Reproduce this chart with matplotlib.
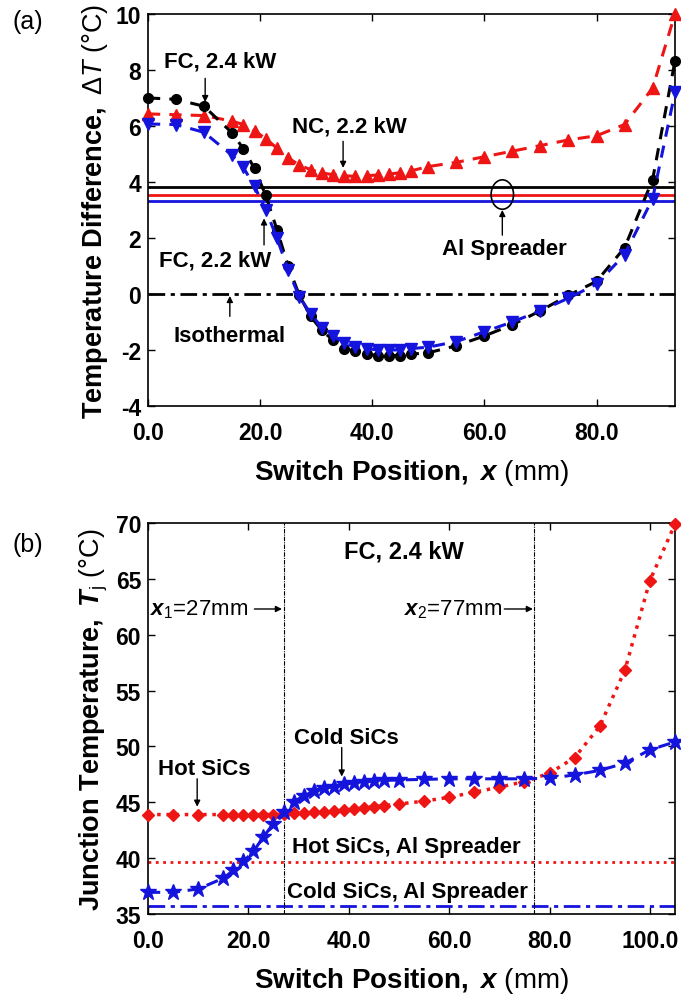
import numpy as np
import matplotlib
matplotlib.use("Agg")
import matplotlib.pyplot as plt
from matplotlib.patches import Ellipse

# -------------------------------------------------------
# Data
# -------------------------------------------------------

# (a) temperature difference
xa_fc = [0, 5, 10, 15, 17, 19, 21, 23, 25, 27, 29, 31, 33, 35, 37, 39, 41, 43,
         45, 47, 50, 55, 60, 65, 70, 75, 80, 85, 90, 94]
dT_fc24 = [7.0, 6.95, 6.7, 5.75, 5.19, 4.48, 3.52, 2.3, 1.0, -0.05, -0.8, -1.3,
           -1.65, -1.95, -2.05, -2.15, -2.2, -2.2, -2.2, -2.15, -2.1, -1.85,
           -1.5, -1.1, -0.6, -0.05, 0.45, 1.65, 4.08, 8.33]
dT_fc22 = [6.07, 6.05, 5.77, 4.95, 4.52, 3.84, 3.0, 2.0, 0.85, -0.1, -0.7, -1.2,
           -1.5, -1.75, -1.9, -1.95, -2.0, -2.0, -2.0, -1.95, -1.9, -1.7,
           -1.35, -1.0, -0.6, -0.15, 0.35, 1.4, 3.4, 7.2]
xa_nc = [0, 5, 10, 15, 17, 19, 21, 23, 25, 27, 29, 31, 33, 35, 37, 39, 41, 43,
         45, 47, 50, 55, 60, 65, 70, 75, 80, 85, 90, 94]
dT_nc22 = [6.43, 6.4, 6.37, 6.17, 6.05, 5.83, 5.54, 5.21, 4.86, 4.6, 4.44, 4.32,
           4.26, 4.22, 4.2, 4.22, 4.25, 4.28, 4.33, 4.4, 4.55, 4.7, 4.9, 5.1,
           5.3, 5.5, 5.65, 6.05, 7.35, 10.0]
al_fc24, al_nc22, al_fc22 = 3.82, 3.55, 3.33

# (b) junction temperature, FC 2.4 kW
xb = [0, 5, 10, 15, 17, 19, 21, 23, 25, 27, 29, 31, 33, 35, 37, 39, 41, 43, 45,
      47, 50, 55, 60, 65, 70, 75, 80, 85, 90, 95, 100, 105]
tj_hot = [43.9, 43.9, 43.9, 43.9, 43.9, 43.9, 43.9, 43.9, 43.9, 43.95, 44.0,
          44.05, 44.1, 44.15, 44.25, 44.3, 44.4, 44.5, 44.6, 44.7, 44.85, 45.1,
          45.45, 45.9, 46.35, 46.85, 47.6, 49.0, 51.8, 56.8, 64.85, 69.9]
tj_cold = [36.94, 36.94, 37.24, 38.2, 38.9, 39.7, 40.6, 41.9, 43.1, 44.1, 45.0,
           45.6, 46.0, 46.25, 46.4, 46.6, 46.75, 46.85, 46.9, 46.95, 47.0, 47.05,
           47.1, 47.1, 47.1, 47.1, 47.15, 47.45, 47.85, 48.5, 49.7, 50.4]
al_hot, al_cold = 39.65, 35.68
x1, x2 = 27, 77

RED  = "#ee1515"
BLUE = "#1414dc"

# -------------------------------------------------------
# Style
# -------------------------------------------------------
plt.rcParams["font.family"] = ["Liberation Sans", "DejaVu Sans"]
plt.rcParams["mathtext.fontset"] = "custom"
plt.rcParams["mathtext.rm"] = "Liberation Sans"
plt.rcParams["mathtext.it"] = "Liberation Sans:italic"
plt.rcParams["mathtext.bf"] = "Liberation Sans:bold"
plt.rcParams["mathtext.bfit"] = "Liberation Sans:bold:italic"
plt.rcParams["axes.unicode_minus"] = False

TICK_FS = 16.5
ANN_FS = 16
LAB_FS = 20

fig = plt.figure(figsize=(6.81, 9.95), dpi=100)
ax1 = fig.add_axes([0.2173, 0.591, 0.7739, 0.394])
ax2 = fig.add_axes([0.2173, 0.0804, 0.7739, 0.393])


def style_axes(ax):
    ax.tick_params(direction="in", top=True, right=True, length=5, width=1,
                   labelsize=TICK_FS)
    ax.tick_params(axis="x", pad=11)
    ax.tick_params(axis="y", pad=5)
    for lbl in ax.get_xticklabels() + ax.get_yticklabels():
        lbl.set_fontweight("bold")
    for s in ax.spines.values():
        s.set_linewidth(1.2)


def arrow(ax, xy, xytext):
    ax.annotate("", xy=xy, xytext=xytext,
                arrowprops=dict(arrowstyle="-|>", color="k", lw=1.0,
                                mutation_scale=9, shrinkA=0, shrinkB=0))


# -------------------------------------------------------
# (a)
# -------------------------------------------------------
ax1.axhline(al_fc24, color="k", lw=2)
ax1.axhline(al_nc22, color=RED, lw=2)
ax1.axhline(al_fc22, color=BLUE, lw=2)
ax1.axhline(0, color="k", lw=2, ls=(0, (6, 2, 1.5, 2)))

ax1.plot(xa_nc, dT_nc22, color=RED, ls="--", dashes=(4, 3), lw=2.2,
         marker="^", ms=8, mec=RED, mfc=RED, clip_on=False, zorder=3)
ax1.plot(xa_fc, dT_fc24, color="k", ls="--", dashes=(4, 3), lw=2.2,
         marker="o", ms=7, clip_on=False, zorder=4)
ax1.plot(xa_fc, dT_fc22, color=BLUE, ls="--", dashes=(4, 3), lw=2.2,
         marker="v", ms=8, clip_on=False, zorder=5)

ax1.set_xlim(0, 94)
ax1.set_ylim(-4, 10)
ax1.set_xticks([0, 20, 40, 60, 80])
ax1.set_xticklabels(["0.0", "20.0", "40.0", "60.0", "80.0"])
ax1.set_yticks(np.arange(-4, 11, 2))
style_axes(ax1)
ax1.set_xlabel(r"$\mathbf{Switch\ Position,}\ \mathbfit{x}$ (mm)", fontsize=LAB_FS,
               labelpad=9)
ax1.set_ylabel(r"$\mathbf{Temperature\ Difference,}\ \mathit{\Delta T}$ (°C)",
               fontsize=LAB_FS - 0.5, labelpad=4)

ax1.text(12.9, 8.33, "FC, 2.4 kW", fontsize=ANN_FS, fontweight="bold",
         ha="center", va="center")
arrow(ax1, (10.2, 6.85), (10.2, 7.7))
ax1.text(36, 6.0, "NC, 2.2 kW", fontsize=ANN_FS, fontweight="bold",
         ha="center", va="center")
arrow(ax1, (34.8, 4.5), (34.8, 5.45))
ax1.text(12, 1.2, "FC, 2.2 kW", fontsize=ANN_FS, fontweight="bold",
         ha="center", va="center")
arrow(ax1, (20.7, 2.7), (20.7, 1.75))
ax1.text(14.6, -1.5, "Isothermal", fontsize=ANN_FS, fontweight="bold",
         ha="center", va="center")
arrow(ax1, (14.6, -0.07), (14.6, -0.8))
ax1.text(63.5, 1.64, "Al Spreader", fontsize=ANN_FS, fontweight="bold",
         ha="center", va="center")
arrow(ax1, (63.2, 3.0), (63.2, 2.1))
ax1.add_patch(Ellipse((63.2, 3.55), 4.0, 1.05, fill=False, ec="k", lw=1.2,
                      zorder=6))

fig.text(13 / 681, 1 - 22 / 995, "(a)", fontsize=18, ha="left", va="center")

# -------------------------------------------------------
# (b)
# -------------------------------------------------------
ax2.axhline(al_hot, color=RED, lw=2, ls=":")
ax2.axhline(al_cold, color=BLUE, lw=2, ls=(0, (6, 2, 1.5, 2)))
ax2.axvline(x1, color="k", lw=0.8, ls=(0, (4, 1, 1, 1)))
ax2.axvline(x2, color="k", lw=0.8, ls=(0, (4, 1, 1, 1)))

ax2.plot(xb, tj_hot, color=RED, ls=":", lw=2.5, marker="D", ms=6.5,
         mec=RED, mfc=RED, clip_on=False, zorder=3)
ax2.plot(xb, tj_cold, color=BLUE, ls="--", dashes=(4, 2.5), lw=2.2,
         marker="*", ms=12, mec=BLUE, mfc=BLUE, clip_on=False, zorder=4)

ax2.set_xlim(0, 105)
ax2.set_ylim(35, 70)
ax2.set_xticks([0, 20, 40, 60, 80, 100])
ax2.set_xticklabels(["0.0", "20.0", "40.0", "60.0", "80.0", "100.0"])
ax2.set_yticks(np.arange(35, 71, 5))
style_axes(ax2)
ax2.set_xlabel(r"$\mathbf{Switch\ Position,}\ \mathbfit{x}$ (mm)", fontsize=LAB_FS,
               labelpad=9)
ax2.set_ylabel(r"$\mathbf{Junction\ Temperature,}\ \mathbfit{T}_{\mathrm{j}}$ (°C)",
               fontsize=LAB_FS - 0.5, labelpad=4)

ax2.text(51, 67.5, "FC, 2.4 kW", fontsize=ANN_FS + 1, fontweight="bold",
         ha="center", va="center")
ax2.text(0.4, 62.3, r"$\mathbfit{x}_{\mathrm{1}}$=27mm", fontsize=ANN_FS,
         ha="left", va="center")
arrow(ax2, (26.7, 62.3), (21.2, 62.3))
ax2.text(70.5, 62.3, r"$\mathbfit{x}_{\mathrm{2}}$=77mm", fontsize=ANN_FS,
         ha="right", va="center")
arrow(ax2, (76.7, 62.3), (71.0, 62.3))
ax2.text(39.6, 50.8, "Cold SiCs", fontsize=ANN_FS, fontweight="bold",
         ha="center", va="center")
arrow(ax2, (38.6, 47.3), (38.6, 49.9))
ax2.text(11.2, 48.0, "Hot SiCs", fontsize=ANN_FS, fontweight="bold",
         ha="center", va="center")
arrow(ax2, (9.8, 44.6), (9.8, 47.1))
ax2.text(51.5, 41.0, "Hot SiCs, Al Spreader", fontsize=ANN_FS, fontweight="bold",
         ha="center", va="center")
ax2.text(51.6, 37.0, "Cold SiCs, Al Spreader", fontsize=ANN_FS, fontweight="bold",
         ha="center", va="center")

fig.text(13 / 681, 1 - 545 / 995, "(b)", fontsize=18, ha="left", va="center")

fig.savefig("out.png", dpi=100)
